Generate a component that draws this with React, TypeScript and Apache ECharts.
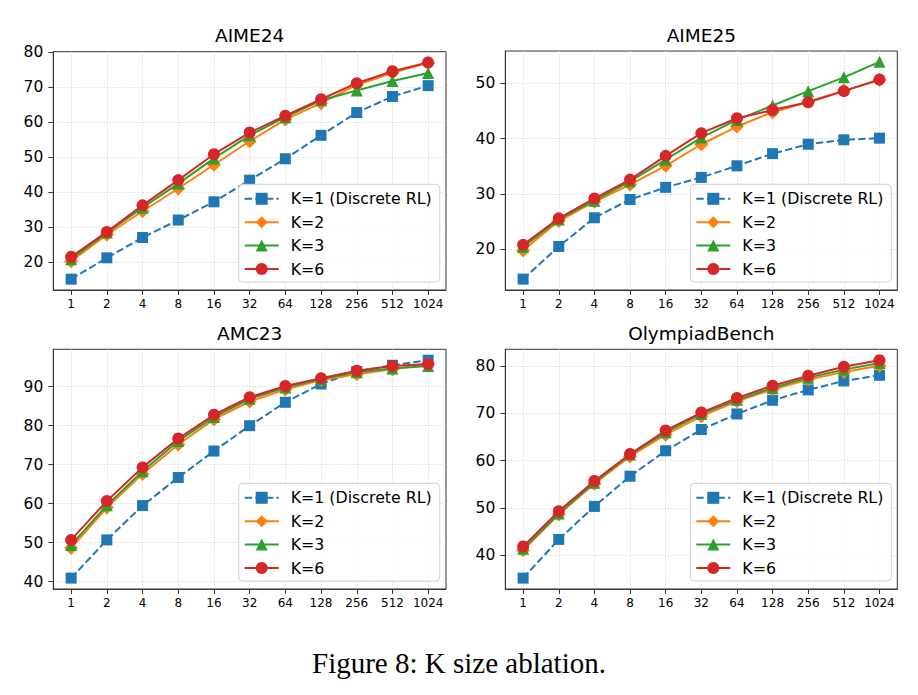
import React, { useEffect, useRef } from "react";
import * as echarts from "echarts";

// Number of samples k for pass@k (x axis categories)
const passK = ["1", "2", "4", "8", "16", "32", "64", "128", "256", "512", "1024"];

const seriesNames = ["K=1 (Discrete RL)", "K=2", "K=3", "K=6"];

// AIME24
const aime24K1 = [15.2, 21.3, 27.1, 32.1, 37.3, 43.5, 49.6, 56.3, 62.8, 67.4, 70.5];
const aime24K2 = [20.3, 27.9, 34.6, 41.1, 47.9, 54.6, 60.8, 65.5, 70.7, 74.2, 77.0];
const aime24K3 = [20.9, 28.5, 35.6, 42.5, 49.7, 56.3, 61.5, 66.3, 69.1, 71.8, 74.1];
const aime24K6 = [21.6, 28.7, 36.3, 43.5, 50.9, 57.1, 61.9, 66.6, 71.2, 74.6, 77.1];
const aime24Ticks = [20, 30, 40, 50, 60, 70, 80];

// AIME25
const aime25K1 = [14.6, 20.5, 25.7, 29.0, 31.2, 33.0, 35.1, 37.3, 39.0, 39.8, 40.1];
const aime25K2 = [19.8, 25.1, 28.6, 31.7, 35.1, 39.0, 42.2, 44.8, 46.7, 48.7, 50.6];
const aime25K3 = [20.4, 25.4, 28.8, 32.3, 36.2, 40.2, 43.4, 46.0, 48.6, 51.1, 53.9];
const aime25K6 = [20.8, 25.6, 29.2, 32.6, 36.9, 41.0, 43.7, 45.2, 46.6, 48.6, 50.7];
const aime25Ticks = [20, 30, 40, 50];

// AMC23
const amc23K1 = [40.9, 50.7, 59.5, 66.7, 73.5, 80.0, 86.0, 90.7, 93.9, 95.5, 96.8];
const amc23K2 = [48.6, 59.0, 67.6, 75.2, 81.6, 86.2, 89.3, 91.7, 93.2, 94.5, 95.8];
const amc23K3 = [49.4, 59.6, 68.3, 76.1, 82.2, 86.9, 89.8, 92.0, 93.7, 94.7, 95.3];
const amc23K6 = [50.7, 60.7, 69.3, 76.7, 82.8, 87.3, 90.2, 92.2, 94.1, 95.3, 95.8];
const amc23Ticks = [40, 50, 60, 70, 80, 90];

// OlympiadBench
const olympiadK1 = [35.1, 43.3, 50.3, 56.7, 62.1, 66.6, 69.9, 72.8, 75.0, 76.9, 78.1];
const olympiadK2 = [41.0, 48.6, 55.1, 60.9, 65.5, 69.4, 72.6, 75.1, 77.2, 78.8, 80.1];
const olympiadK3 = [41.3, 48.8, 55.3, 61.3, 66.0, 69.9, 72.9, 75.4, 77.6, 79.3, 80.7];
const olympiadK6 = [41.8, 49.3, 55.7, 61.4, 66.4, 70.2, 73.3, 75.9, 78.0, 79.9, 81.3];
const olympiadTicks = [40, 50, 60, 70, 80];

const FONT = "DejaVu Sans";
const AXIS_COLOR = "#333333";
const GRID_COLOR = "#cfcfcf";

const lineStyles = [
  { color: "#1f77b4", symbol: "rect", symbolSize: 11, dash: [7.4, 3.2] as number[] | null },
  { color: "#ff7f0e", symbol: "diamond", symbolSize: 14, dash: null },
  { color: "#2ca02c", symbol: "triangle", symbolSize: 12, dash: null },
  { color: "#d62728", symbol: "circle", symbolSize: 12, dash: null },
];

const panels = [
  {
    title: "AIME24",
    series: [aime24K1, aime24K2, aime24K3, aime24K6],
    ticks: aime24Ticks,
    grid: { left: 53.3, top: 51.7, width: 392.7, height: 238.3 },
    legend: { left: 238.7, top: 184.3 },
    titleY: 35,
  },
  {
    title: "AIME25",
    series: [aime25K1, aime25K2, aime25K3, aime25K6],
    ticks: aime25Ticks,
    grid: { left: 505.3, top: 51.0, width: 392.0, height: 239.0 },
    legend: { left: 690.3, top: 184.3 },
    titleY: 35,
  },
  {
    title: "AMC23",
    series: [amc23K1, amc23K2, amc23K3, amc23K6],
    ticks: amc23Ticks,
    grid: { left: 53.3, top: 349.3, width: 392.7, height: 239.7 },
    legend: { left: 238.7, top: 483.3 },
    titleY: 333.5,
  },
  {
    title: "OlympiadBench",
    series: [olympiadK1, olympiadK2, olympiadK3, olympiadK6],
    ticks: olympiadTicks,
    grid: { left: 505.3, top: 349.3, width: 392.0, height: 239.7 },
    legend: { left: 690.3, top: 483.3 },
    titleY: 333.5,
  },
];

// y range with a 5% margin on each side of the data
function paddedRange(list: number[][]): [number, number] {
  const all = list.flat();
  const lo = Math.min(...all);
  const hi = Math.max(...all);
  const pad = (hi - lo) * 0.05;
  return [lo - pad, hi + pad];
}

function buildOption() {
  const grid = panels.map((p) => ({
    ...p.grid,
    show: true,
    borderColor: AXIS_COLOR,
    borderWidth: 1,
    backgroundColor: "transparent",
  }));

  const xAxis = panels.map((_, i) => ({
    type: "category",
    gridIndex: i,
    data: passK,
    boundaryGap: true,
    axisLine: { show: true, lineStyle: { color: AXIS_COLOR, width: 1 } },
    axisTick: { show: true, alignWithLabel: true, length: 4.9, lineStyle: { color: AXIS_COLOR, width: 1 } },
    axisLabel: { interval: 0, fontSize: 12, color: "#000", fontFamily: FONT, margin: 8 },
    splitLine: {
      show: true,
      alignWithLabel: true,
      interval: 0,
      lineStyle: { color: GRID_COLOR, width: 0.8, type: [1.2, 1.6] },
    },
  }));

  const yAxis = panels.map((p, i) => {
    const [lo, hi] = paddedRange(p.series);
    return {
      type: "value",
      gridIndex: i,
      min: lo,
      max: hi,
      axisLine: { show: true, lineStyle: { color: AXIS_COLOR, width: 1 } },
      axisTick: { show: true, length: 4.9, customValues: p.ticks, lineStyle: { color: AXIS_COLOR, width: 1 } },
      axisLabel: { customValues: p.ticks, fontSize: 15.5, color: "#000", fontFamily: FONT, margin: 10 },
      splitLine: { show: true, lineStyle: { color: GRID_COLOR, width: 0.8, type: [1.2, 1.6] } },
    };
  });

  const series: any[] = [];
  panels.forEach((p, i) => {
    p.series.forEach((values, j) => {
      const s = lineStyles[j];
      series.push({
        type: "line",
        name: seriesNames[j],
        xAxisIndex: i,
        yAxisIndex: i,
        data: values,
        symbol: s.symbol,
        symbolSize: s.symbolSize,
        showAllSymbol: true,
        z: 2 + j,
        itemStyle: { color: s.color },
        lineStyle: { color: s.color, width: 2, type: s.dash ? s.dash : "solid" },
        emphasis: { disabled: true },
      });
    });
  });

  const legend = panels.map((p) => ({
    orient: "vertical",
    left: p.legend.left,
    top: p.legend.top,
    data: seriesNames,
    selectedMode: false,
    itemWidth: 34,
    itemHeight: 15,
    itemGap: 7.4,
    padding: [6.5, 8, 5, 5],
    backgroundColor: "rgba(255,255,255,0.85)",
    borderColor: "#d0d0d0",
    borderWidth: 1,
    borderRadius: 4,
    textStyle: { fontSize: 15.8, color: "#000", fontFamily: FONT, padding: [0, 0, 0, 7], lineHeight: 16 },
  }));

  const graphic: any[] = panels.map((p) => ({
    type: "text",
    x: p.grid.left + p.grid.width / 2,
    y: p.titleY,
    style: {
      text: p.title,
      fontSize: 18.5,
      fontFamily: FONT,
      fill: "#000",
      align: "center",
      verticalAlign: "middle",
    },
  }));
  graphic.push({
    type: "text",
    x: 459,
    y: 663,
    style: {
      text: "Figure 8: K size ablation.",
      fontSize: 29,
      fontFamily: "Liberation Serif",
      fill: "#000",
      align: "center",
      verticalAlign: "middle",
    },
  });

  return {
    animation: false,
    backgroundColor: "#ffffff",
    grid,
    xAxis,
    yAxis,
    series,
    legend,
    graphic,
  };
}

export default function App() {
  const ref = useRef<HTMLDivElement>(null);

  useEffect(() => {
    if (!ref.current) return;
    const chart = echarts.init(ref.current, null, { renderer: "svg" });
    chart.setOption(buildOption() as any);
    return () => chart.dispose();
  }, []);

  return (
    <div
      ref={ref}
      style={{ position: "fixed", left: 0, top: 0, width: 918, height: 695, background: "#fff" }}
    />
  );
}
